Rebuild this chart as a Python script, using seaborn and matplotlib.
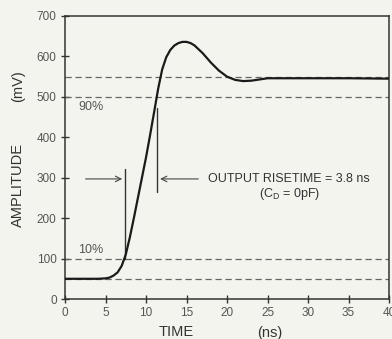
import numpy as np
import pandas as pd
import matplotlib
matplotlib.use("Agg")
import matplotlib.pyplot as plt
import seaborn as sns

# Data
time_ns = [0, 2, 4, 5, 5.5, 6, 6.5, 7, 7.5, 8, 8.5, 9, 9.5, 10, 10.5, 11, 11.5, 12,
           12.5, 13, 13.5, 14, 14.5, 15, 15.5, 16, 17, 18, 19, 20, 21, 22, 23, 24,
           25, 30, 35, 40]
amplitude_mv = [50, 50, 50, 51, 53, 58, 66, 82, 110, 152, 200, 250, 300, 350, 405, 462,
                520, 568, 598, 616, 627, 633, 636, 636, 633, 627, 608, 585, 565, 550,
                542, 539, 540, 543, 546, 546, 546, 545]
ref_levels = [550, 500, 100, 50]
x_ticks = [0, 5, 10, 15, 20, 25, 30, 35, 40]
y_ticks = [0, 100, 200, 300, 400, 500, 600, 700]
left_marker_t = 7.4
right_marker_t = 11.4

sns.set_style("ticks")
plt.rcParams['font.family'] = ['Liberation Sans', 'DejaVu Sans']

bg = '#f4f4ef'
fig = plt.figure(figsize=(3.92, 3.39), dpi=100, facecolor=bg)
ax = fig.add_axes([65/392, 1-299/339, (389-65)/392, (299-16)/339])
ax.set_facecolor(bg)

df = pd.DataFrame({"t": time_ns, "a": amplitude_mv})

for lvl in ref_levels:
    ax.axhline(lvl, color='#666666', lw=0.9, ls=(0, (5, 3)), zorder=1)

sns.lineplot(data=df, x="t", y="a", ax=ax, color='#1a1a1a', lw=1.6, zorder=3)

# marker lines
ax.plot([left_marker_t, left_marker_t], [100, 322], color='#333333', lw=1.0, zorder=2)
ax.plot([right_marker_t, right_marker_t], [265, 473], color='#333333', lw=1.0, zorder=2)
ax.annotate('', xy=(left_marker_t, 297), xytext=(2.2, 297),
            arrowprops=dict(arrowstyle='->', color='#444444', lw=0.8))
ax.annotate('', xy=(right_marker_t, 297), xytext=(16.8, 297),
            arrowprops=dict(arrowstyle='->', color='#444444', lw=0.8))

ax.text(27.7, 297, 'OUTPUT RISETIME = 3.8 ns', ha='center', va='center',
        fontsize=9, color='#333333')
ax.text(27.7, 260, '(C$_\\mathregular{D}$ = 0pF)', ha='center', va='center',
        fontsize=9, color='#333333')
ax.text(1.6, 475, '90%', ha='left', va='center', fontsize=9, color='#555555')
ax.text(1.6, 121, '10%', ha='left', va='center', fontsize=9, color='#555555')

ax.set_xlim(0, 40)
ax.set_ylim(0, 700)
ax.set_xticks(x_ticks)
ax.set_yticks(y_ticks)
ax.tick_params(direction='inout', length=6, width=1.0, labelsize=8.5,
               labelcolor='#555555', color='#333333', pad=3)
for s in ax.spines.values():
    s.set_color('#333333')
    s.set_linewidth(1.1)
ax.set_xlabel('')
ax.set_ylabel('')

fig.text(18/392, 1-185/339, 'AMPLITUDE', rotation=90, ha='center', va='center',
         fontsize=10.5, color='#333333')
fig.text(18/392, 1-86/339, '(mV)', rotation=90, ha='center', va='center',
         fontsize=10.5, color='#333333')
fig.text(176/392, 1-332/339, 'TIME', ha='center', va='center', fontsize=10.5, color='#333333')
fig.text(270/392, 1-333/339, '(ns)', ha='center', va='center', fontsize=10.5, color='#333333')

fig.savefig('out.png', dpi=100, facecolor=bg)
